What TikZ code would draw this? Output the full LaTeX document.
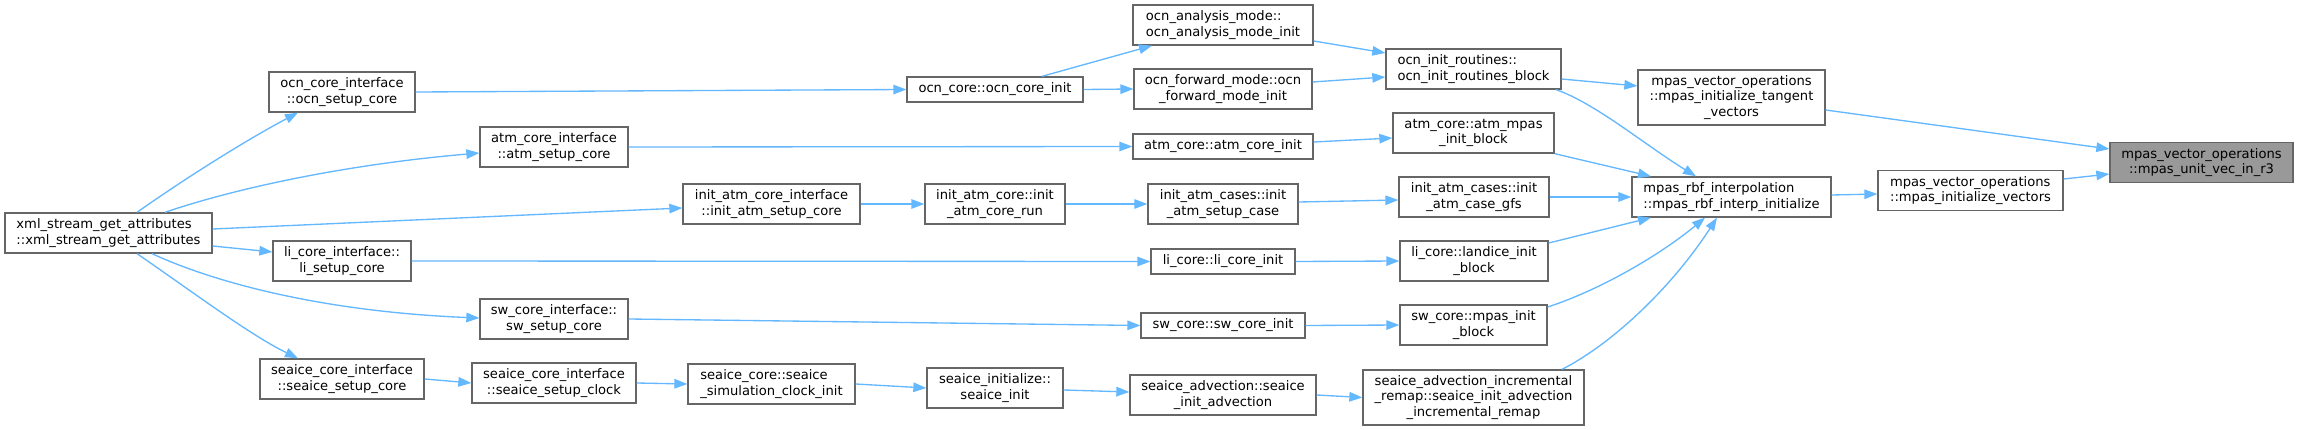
\documentclass[tikz,border=0pt]{standalone}
\usepackage{fontspec}
\setmainfont{DejaVu Sans}
\usetikzlibrary{arrows.meta}
\definecolor{edgeblue}{HTML}{63B8FF}
\definecolor{boxgray}{HTML}{666666}
\definecolor{fillgray}{HTML}{999999}
\tikzset{
  fn/.style={draw=boxgray, fill=white, line width=1.33pt, inner sep=0pt, align=center,
    minimum height=40pt, font=\fontsize{13.1}{15.3}\selectfont},
  fnl/.style={fn, align=left},
  call/.style={draw=edgeblue, line width=1.33pt, -{Triangle[length=13pt,width=9.5pt]}},
}
\begin{document}
\begin{tikzpicture}[x=1pt,y=-1pt]
\fill[white] (0,0) rectangle (2299,430);
\useasboundingbox (0,0) rectangle (2299,430);

\node[fnl, minimum width=207pt] (xml) at (108.5,233) {xml\_stream\_get\_attributes\\::xml\_stream\_get\_attributes};
\node[fn, minimum width=146pt] (ocnsetup) at (342,92) {ocn\_core\_interface\\::ocn\_setup\_core};
\node[fn, minimum width=148pt] (atmsetup) at (554,147) {atm\_core\_interface\\::atm\_setup\_core};
\node[fn, minimum width=177pt] (initatmsetup) at (771.5,204) {init\_atm\_core\_interface\\::init\_atm\_setup\_core};
\node[fn, minimum width=138pt] (lisetup) at (342,261) {li\_core\_interface::\\li\_setup\_core};
\node[fn, minimum width=148pt] (swsetup) at (554,319) {sw\_core\_interface::\\sw\_setup\_core};
\node[fn, minimum width=164pt] (seaicesetup) at (342,379) {seaice\_core\_interface\\::seaice\_setup\_core};
\node[fn, minimum width=164pt] (seaiceclock) at (554,383) {seaice\_core\_interface\\::seaice\_setup\_clock};
\node[fnl, minimum width=167pt] (seaiceclockinit) at (771.5,384) {seaice\_core::seaice\\\_simulation\_clock\_init};
\node[fn, minimum width=176pt, minimum height=25pt] (ocncoreinit) at (995,89.5) {ocn\_core::ocn\_core\_init};
\node[fnl, minimum width=180pt] (ocnanalysis) at (1223,25) {ocn\_analysis\_mode::\\ocn\_analysis\_mode\_init};
\node[fn, minimum width=178pt] (ocnforward) at (1223,89) {ocn\_forward\_mode::ocn\\\_forward\_mode\_init};
\node[fn, minimum width=180pt, minimum height=25pt] (atmcoreinit) at (1223,146.5) {atm\_core::atm\_core\_init};
\node[fn, minimum width=140pt] (initatmrun) at (995,204) {init\_atm\_core::init\\\_atm\_core\_run};
\node[fn, minimum width=150pt] (initatmcase) at (1223,204) {init\_atm\_cases::init\\\_atm\_setup\_case};
\node[fn, minimum width=144pt, minimum height=25pt] (licoreinit) at (1223,261.5) {li\_core::li\_core\_init};
\node[fn, minimum width=164pt, minimum height=25pt] (swcoreinit) at (1223,325.5) {sw\_core::sw\_core\_init};
\node[fn, minimum width=136pt] (seaiceinit) at (995,388) {seaice\_initialize::\\seaice\_init};
\node[fn, minimum width=186pt] (seaiceadv) at (1223,395) {seaice\_advection::seaice\\\_init\_advection};
\node[fnl, minimum width=175pt] (ocninitblock) at (1473.5,69) {ocn\_init\_routines::\\ocn\_init\_routines\_block};
\node[fn, minimum width=161pt] (atmmpasblock) at (1473.5,133) {atm\_core::atm\_mpas\\\_init\_block};
\node[fn, minimum width=150pt] (initatmgfs) at (1474,197) {init\_atm\_cases::init\\\_atm\_case\_gfs};
\node[fn, minimum width=148pt] (landiceblock) at (1474,261) {li\_core::landice\_init\\\_block};
\node[fn, minimum width=147pt] (swmpasblock) at (1473.5,325) {sw\_core::mpas\_init\\\_block};
\node[fn, minimum width=221pt, minimum height=55pt] (remap) at (1473.5,397.5) {seaice\_advection\_incremental\\\_remap::seaice\_init\_advection\\\_incremental\_remap};
\node[fn, minimum width=187pt, minimum height=55pt] (tangent) at (1731.5,97.5) {mpas\_vector\_operations\\::mpas\_initialize\_tangent\\\_vectors};
\node[fnl, minimum width=199pt] (rbf) at (1731.5,197) {mpas\_rbf\_interpolation\\::mpas\_rbf\_interp\_initialize};
\node[fnl, minimum width=185pt] (initvectors) at (1970.5,190.5) {mpas\_vector\_operations\\::mpas\_initialize\_vectors};
\node[fn, fill=fillgray, minimum width=183pt] (unitvec) at (2201.5,162.5) {mpas\_vector\_operations\\::mpas\_unit\_vec\_in\_r3};

% edges from xml
\draw[call] ([xshift=28.5pt]xml.north) .. controls (190,175) and (250,138) .. ([xshift=-44pt]ocnsetup.south);
\draw[call] ([xshift=56.5pt]xml.north) .. controls (230,190) and (340,165) .. ([yshift=-6pt]atmsetup.west);
\draw[call] ([yshift=4pt]xml.east) -- ([yshift=-4pt]initatmsetup.west);
\draw[call] ([yshift=-13pt]xml.east) -- ([yshift=9pt]lisetup.west);
\draw[call] ([xshift=43.5pt]xml.south) .. controls (220,285) and (330,312) .. ([yshift=1pt]swsetup.west);
\draw[call] ([xshift=28.5pt]xml.south) .. controls (190,290) and (250,335) .. ([xshift=-44pt]seaicesetup.north);

% second column
\draw[call] (ocnsetup.east) -- (ocncoreinit.west);
\draw[call] (atmsetup.east) -- (atmcoreinit.west);
\draw[call] (initatmsetup.east) -- (initatmrun.west);
\draw[call] (lisetup.east) -- (licoreinit.west);
\draw[call] (swsetup.east) -- (swcoreinit.west);
\draw[call] (seaicesetup.east) -- (seaiceclock.west);
\draw[call] (seaiceclock.east) -- (seaiceclockinit.west);
\draw[call] (seaiceclockinit.east) -- (seaiceinit.west);
\draw[call] ([yshift=-2pt]seaiceinit.east) -- ([yshift=3pt]seaiceadv.west);
\draw[call] (seaiceadv.east) -- (remap.west);

% ocn branch
\draw[call] ([xshift=47pt]ocncoreinit.north) -- ([xshift=-71pt]ocnanalysis.south);
\draw[call] (ocncoreinit.east) -- (ocnforward.west);
\draw[call] ([yshift=-16pt]ocnanalysis.east) -- ([yshift=16pt]ocninitblock.west);
\draw[call] ([yshift=7pt]ocnforward.east) -- ([yshift=-8pt]ocninitblock.west);
\draw[call] ([yshift=4.5pt]atmcoreinit.east) -- ([yshift=-5pt]atmmpasblock.west);
\draw[call] (initatmrun.east) -- (initatmcase.west);
\draw[call] ([yshift=2pt]initatmcase.east) -- ([yshift=-3pt]initatmgfs.west);
\draw[call] (licoreinit.east) -- (landiceblock.west);
\draw[call] (swcoreinit.east) -- (swmpasblock.west);

% into rbf and tangent
\draw[call] ([yshift=-10pt]ocninitblock.east) -- ([yshift=11.5pt]tangent.west);
\draw[call] ([xshift=82.5pt]ocninitblock.south) .. controls (1595,103) and (1645,145) .. ([xshift=-35.5pt]rbf.north);
\draw[call] (atmmpasblock.south east) -- ([xshift=-80.5pt]rbf.north);
\draw[call] (initatmgfs.east) -- (rbf.west);
\draw[call] ([yshift=18pt]landiceblock.east) -- ([xshift=-80.5pt]rbf.south);
\draw[call] ([yshift=18pt]swmpasblock.east) .. controls (1600,290) and (1660,255) .. ([xshift=-26.5pt]rbf.south);
\draw[call] ([xshift=88.5pt]remap.north) .. controls (1610,345) and (1670,290) .. ([xshift=-14.5pt]rbf.south);

% right end
\draw[call] ([yshift=2pt]rbf.east) -- ([yshift=-3.5pt]initvectors.west);
\draw[call] ([yshift=11.5pt]initvectors.east) -- ([yshift=-11.5pt]unitvec.west);
\draw[call] ([yshift=-12.5pt]tangent.east) -- ([yshift=13.5pt]unitvec.west);
\end{tikzpicture}
\end{document}
